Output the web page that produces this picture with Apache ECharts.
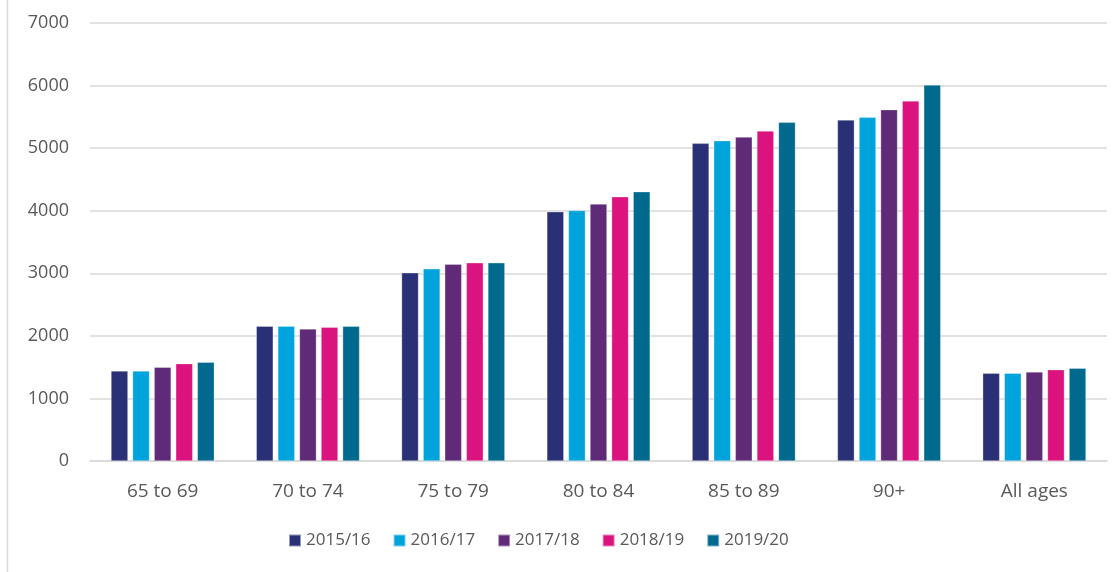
<!DOCTYPE html>
<html>
<head>
<meta charset="utf-8">
<script src="https://cdn.jsdelivr.net/npm/echarts@6/dist/echarts.min.js"></script>
<style>html,body{margin:0;padding:0;background:#fff}#c{width:1120px;height:572px}</style>
</head>
<body>
<div id="c"></div>
<script>
const categories = ['65 to 69', '70 to 74', '75 to 79', '80 to 84', '85 to 89', '90+', 'All ages'];
const seriesNames = ['2015/16', '2016/17', '2017/18', '2018/19', '2019/20'];
const v2015 = [1440, 2155, 3008, 3984, 5077, 5451, 1403];
const v2016 = [1440, 2155, 3072, 4005, 5120, 5493, 1403];
const v2017 = [1499, 2112, 3147, 4107, 5179, 5616, 1424];
const v2018 = [1557, 2139, 3168, 4224, 5275, 5755, 1461];
const v2019 = [1579, 2155, 3168, 4304, 5413, 6011, 1483];
const yTicks = [0, 1000, 2000, 3000, 4000, 5000, 6000, 7000];
const colors = ['#293076', '#00A3DB', '#5F2A77', '#DB137F', '#00698E'];
const values = [v2015, v2016, v2017, v2018, v2019];

const chart = echarts.init(document.getElementById('c'));
const font = "'Open Sans', 'Liberation Sans', sans-serif";
chart.setOption({
  animation: false,
  color: colors,
  textStyle: { fontFamily: font },
  grid: { left: 90, right: 13, top: 23, bottom: 111, containLabel: false },
  legend: {
    data: seriesNames,
    top: 527,
    left: 283,
    icon: 'rect',
    itemWidth: 12,
    itemHeight: 12,
    itemGap: 22,
    textStyle: { color: '#595959', fontSize: 17, fontFamily: font }
  },
  xAxis: {
    type: 'category',
    data: categories,
    axisLine: { lineStyle: { color: '#d9d9d9', width: 1.5 } },
    axisTick: { show: false },
    axisLabel: { color: '#595959', fontSize: 19, margin: 21, fontFamily: font }
  },
  yAxis: {
    type: 'value',
    min: yTicks[0],
    max: yTicks[yTicks.length - 1],
    interval: 1000,
    axisLine: { show: false },
    axisTick: { show: false },
    axisLabel: { color: '#595959', fontSize: 18, margin: 21, fontFamily: font, formatter: v => String(v) },
    splitLine: { lineStyle: { color: '#d9d9d9', width: 1.5 } }
  },
  series: seriesNames.map((n, i) => ({
    name: n,
    type: 'bar',
    data: values[i],
    barWidth: 17,
    barGap: '27%',
    itemStyle: { color: colors[i], borderColor: 'rgba(255,255,255,0.5)', borderWidth: 0.6 }
  })),
  graphic: [{
    type: 'line',
    shape: { x1: 7.5, y1: 0, x2: 7.5, y2: 572 },
    style: { stroke: '#d9d9d9', lineWidth: 1.5 }
  }]
});
</script>
</body>
</html>
